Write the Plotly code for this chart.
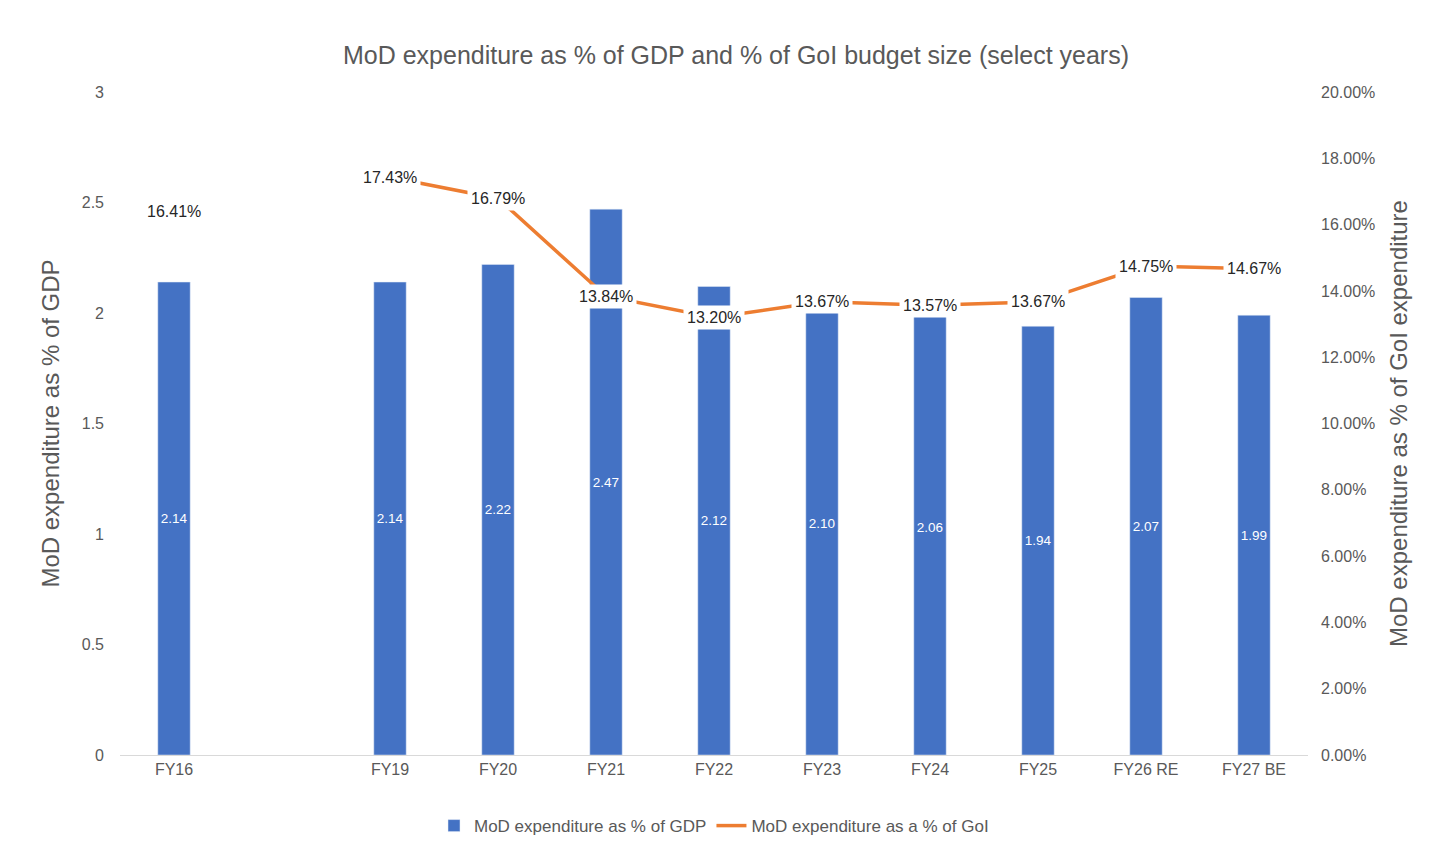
import plotly.graph_objects as go

years = ['FY16', ' ', 'FY19', 'FY20', 'FY21', 'FY22', 'FY23', 'FY24', 'FY25', 'FY26 RE', 'FY27 BE']
gdp_pct = [2.14, None, 2.14, 2.22, 2.47, 2.12, 2.10, 2.06, 1.94, 2.07, 1.99]
goi_pct = [0.1641, None, 0.1743, 0.1679, 0.1384, 0.1320, 0.1367, 0.1357, 0.1367, 0.1475, 0.1467]

blue = '#4472C4'
orange = '#ED7D31'
grey = '#595959'

fig = go.Figure()
fig.add_trace(go.Bar(
    x=years, y=gdp_pct, name='MoD expenditure as % of GDP',
    marker_color=blue, width=0.3,
    text=[f'{v:.2f}' if v is not None else '' for v in gdp_pct],
    textposition='inside', insidetextanchor='middle', textangle=0,
    textfont=dict(color='white', size=16), cliponaxis=False,
))
fig.add_trace(go.Scatter(
    x=years, y=goi_pct, name='MoD expenditure as a % of GoI',
    mode='lines', line=dict(color=orange, width=3.5), yaxis='y2',
    connectgaps=False,
))
# FY16 point is isolated, so no line drawn there; labels with white boxes
for x, v in zip(years, goi_pct):
    if v is None:
        continue
    fig.add_annotation(x=x, y=v, yref='y2', text=f'{v*100:.2f}%',
                       showarrow=False, bgcolor='white', borderpad=3,
                       font=dict(size=16, color='#262626'))

fig.update_layout(
    width=1456, height=858,
    paper_bgcolor='white', plot_bgcolor='white',
    font=dict(family='Liberation Sans, Arial', color=grey, size=16),
    title=dict(text='MoD expenditure as % of GDP and % of GoI budget size (select years)',
               x=0.5, y=0.955, xanchor='center', font=dict(size=25, color=grey)),
    margin=dict(l=112, r=156, t=84, b=111),
    bargap=0.7,
    xaxis=dict(showline=True, linecolor='#D9D9D9', tickfont=dict(size=16, color=grey)),
    yaxis=dict(range=[0, 3], dtick=0.5, showgrid=False, zeroline=False,
               title=dict(text='MoD expenditure as % of GDP', font=dict(size=24, color=grey)),
               tickfont=dict(size=16, color=grey), ticklabelstandoff=15),
    yaxis2=dict(range=[0, 0.2], dtick=0.02, tickformat='.2%', overlaying='y', side='right',
                showgrid=False, zeroline=False,
                title=dict(text='MoD expenditure as % of GoI expenditure', font=dict(size=24, color=grey)),
                tickfont=dict(size=16, color=grey), ticklabelstandoff=12),
    legend=dict(orientation='h', x=0.5, xanchor='center', y=-0.08, yanchor='top',
                font=dict(size=17, color=grey)),
)

fig.write_html('out.html')
